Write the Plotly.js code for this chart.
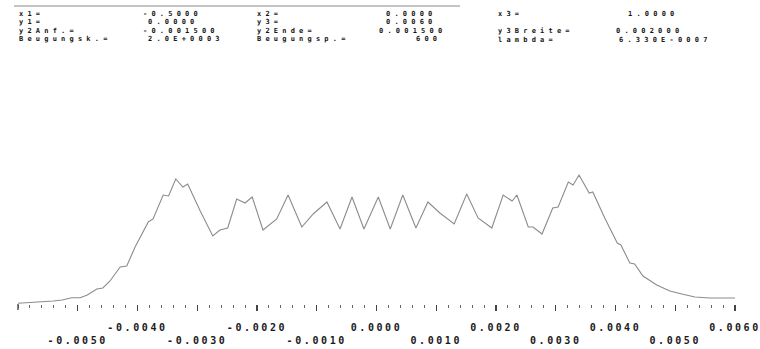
<!DOCTYPE html>
<html>
<head>
<meta charset="utf-8">
<script src="https://cdn.plot.ly/plotly-3.0.1.min.js"></script>
<style>
  html, body { margin: 0; padding: 0; background: #ffffff; }
  #chart { width: 760px; height: 349px; }
  .main-svg .xtick text { letter-spacing: 2.6px; }
  .main-svg .annotation text { letter-spacing: 4.2px; }
</style>
</head>
<body>
<div id="chart"></div>
<script>
// ---- data: diffraction intensity profile (position y3, relative intensity) ----
const positions = [
  -0.00600, -0.00580, -0.00558, -0.00541, -0.00526, -0.00510, -0.00496, -0.00484,
  -0.00468, -0.00458, -0.00446, -0.00429, -0.00418, -0.00404, -0.00382, -0.00374,
  -0.00357, -0.00348, -0.00336, -0.00324, -0.00316, -0.00295, -0.00274, -0.00262,
  -0.00249, -0.00234, -0.00220, -0.00208, -0.00190, -0.00167, -0.00148, -0.00125,
  -0.00106, -0.00083, -0.00061, -0.00041, -0.00021, 0.00003, 0.00023, 0.00044,
  0.00066, 0.00086, 0.00106, 0.00130, 0.00151, 0.00170, 0.00193, 0.00212,
  0.00227, 0.00235, 0.00254, 0.00262, 0.00277, 0.00295, 0.00304, 0.00321,
  0.00329, 0.00339, 0.00356, 0.00362, 0.00382, 0.00403, 0.00409, 0.00424,
  0.00432, 0.00446, 0.00469, 0.00491, 0.00511, 0.00533, 0.00558, 0.00580, 0.00600
];
const intensity = [
  0.007, 0.013, 0.02, 0.03, 0.04, 0.063, 0.063, 0.09,
  0.15, 0.16, 0.23, 0.37, 0.38, 0.57, 0.82, 0.85,
  1.09, 1.08, 1.25, 1.17, 1.20, 0.93, 0.68, 0.74,
  0.76, 1.05, 1.01, 1.07, 0.74, 0.85, 1.09, 0.77,
  0.90, 1.02, 0.75, 1.07, 0.75, 1.07, 0.75, 1.09,
  0.76, 1.02, 0.91, 0.80, 1.10, 0.86, 0.76, 1.09,
  1.03, 1.09, 0.77, 0.77, 0.70, 0.96, 0.97, 1.22,
  1.19, 1.29, 1.11, 1.12, 0.86, 0.61, 0.59, 0.41,
  0.40, 0.28, 0.19, 0.13, 0.10, 0.07, 0.06, 0.06, 0.06
];

// ---- x axis tick labels ----
const tickValues = [-0.005, -0.004, -0.003, -0.002, -0.001, 0.000, 0.001, 0.002, 0.003, 0.004, 0.005, 0.006];
const tickLabels = ["-0.0050", "-0.0040", "-0.0030", "-0.0020", "-0.0010", "0.0000",
                    "0.0010", "0.0020", "0.0030", "0.0040", "0.0050", "0.0060"];
const tickLowerRow = [true, false, true, false, true, false, true, false, true, false, true, false];

// ---- header parameter block ----
const headerLabels = ["x1=", "y1=", "y2Anf.=", "Beugungsk.=",
                      "x2=", "y3=", "y2Ende=", "Beugungsp.=",
                      "x3=", "y3Breite=", "lambda="];
const headerValues = ["-0.5000", "0.0000", "-0.001500", "2.0E+0003",
                      "0.0000", "0.0060", "0.001500", "600",
                      "1.0000", "0.002000", "6.330E-0007"];

// ---- layout geometry (pixels) ----
const L = 18, R = 25, T = 160, B = 45, W = 760, H = 349;
const plotW = W - L - R, plotH = H - T - B;
const bottomPx = H - B;
function px(xp) { return (xp - L) / plotW; }
function py(yp) { return (bottomPx - yp) / plotH; }

const labelPos = [[18,14],[18,22.3],[18,30.6],[18,38.9],
                  [256,14],[256,22.4],[256,30.8],[256,39.2],
                  [497,14],[497,31.4],[497,39.8]];
const valuePos = [[142,14],[147,22.3],[142,30.6],[147,38.9],
                  [385,14],[385,22.4],[378,30.8],[415,39.2],
                  [627,14],[615,31.4],[618,39.8]];

const textFont = { family: "DejaVu Sans Mono", size: 7, color: "#151515", weight: "bold" };
const annotations = [];
function addText(t, p) {
  annotations.push({
    text: t, xref: "paper", yref: "paper", x: px(p[0]), y: py(p[1]),
    xanchor: "left", yanchor: "middle", align: "left", showarrow: false,
    font: textFont, borderpad: 0
  });
}
headerLabels.forEach((t, i) => addText(t, labelPos[i]));
headerValues.forEach((t, i) => addText(t, valuePos[i]));

const ticktext = tickLabels.map((t, i) => tickLowerRow[i] ? "<br>" + t : t);

const trace = {
  x: positions, y: intensity, type: "scatter", mode: "lines",
  line: { color: "#8c8c8c", width: 1.1 }, hoverinfo: "skip", showlegend: false
};

const layout = {
  width: W, height: H,
  margin: { l: L, r: R, t: T, b: B, pad: 0 },
  paper_bgcolor: "#ffffff", plot_bgcolor: "#ffffff",
  showlegend: false,
  xaxis: {
    range: [-0.006, 0.006], showgrid: false, zeroline: false, showline: false,
    tickmode: "array", tickvals: tickValues, ticktext: ticktext,
    ticks: "outside", ticklen: 6, tickwidth: 1.3, tickcolor: "#444",
    ticklabelstandoff: 8,
    tickfont: { family: "DejaVu Sans Mono", size: 10, color: "#1a1a1a", weight: "bold" },
    minor: { dtick: 0.0002, tick0: -0.006, ticks: "outside", ticklen: 3, tickwidth: 1, tickcolor: "#666", showgrid: false },
    fixedrange: true
  },
  yaxis: {
    range: [0, plotH / 100], visible: false, showgrid: false, zeroline: false, fixedrange: true
  },
  shapes: [
    { type: "line", xref: "paper", yref: "paper", x0: px(14), x1: px(460), y0: py(6), y1: py(6),
      line: { color: "#c4c4c4", width: 2 } },
    { type: "line", xref: "paper", yref: "paper", x0: px(18), x1: px(18), y0: py(304), y1: py(310),
      line: { color: "#444", width: 1.3 } }
  ],
  annotations: annotations
};

Plotly.newPlot("chart", [trace], layout, { staticPlot: true, displayModeBar: false });
</script>
</body>
</html>
